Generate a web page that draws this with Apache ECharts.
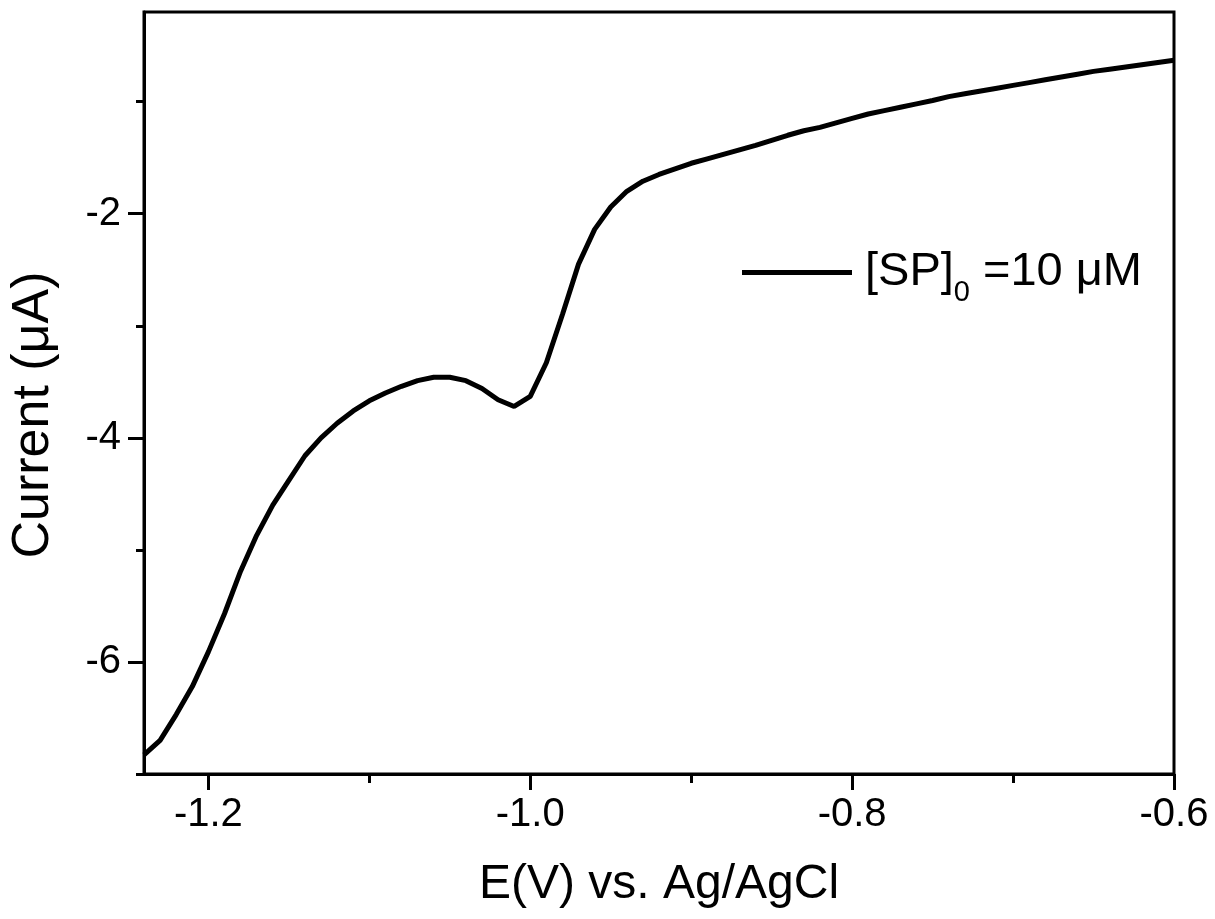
<!DOCTYPE html>
<html>
<head>
<meta charset="utf-8">
<script src="https://cdn.jsdelivr.net/npm/echarts@6/dist/echarts.min.js"></script>
<style>
  html, body { margin: 0; padding: 0; background: #fff; }
  #chart { width: 1215px; height: 919px; }
</style>
</head>
<body>
<div id="chart"></div>
<script>
// potential (V vs. Ag/AgCl), 10 mV steps
const potential = [
  -1.24, -1.23, -1.22, -1.21, -1.20, -1.19, -1.18, -1.17, -1.16, -1.15,
  -1.14, -1.13, -1.12, -1.11, -1.10, -1.09, -1.08, -1.07, -1.06, -1.05,
  -1.04, -1.03, -1.02, -1.01, -1.00, -0.99, -0.98, -0.97, -0.96, -0.95,
  -0.94, -0.93, -0.92, -0.91, -0.90, -0.89, -0.88, -0.87, -0.86, -0.85,
  -0.84, -0.83, -0.82, -0.81, -0.80, -0.79, -0.78, -0.77, -0.76, -0.75,
  -0.74, -0.73, -0.72, -0.71, -0.70, -0.69, -0.68, -0.67, -0.66, -0.65,
  -0.64, -0.63, -0.62, -0.61, -0.60
];
// current (uA)
const current = [
  -6.83, -6.70, -6.47, -6.22, -5.91, -5.57, -5.19, -4.87, -4.60, -4.38,
  -4.16, -4.00, -3.87, -3.76, -3.67, -3.60, -3.54, -3.49, -3.46, -3.46,
  -3.49, -3.56, -3.66, -3.72, -3.63, -3.33, -2.90, -2.45, -2.14, -1.94,
  -1.80, -1.71, -1.65, -1.60, -1.55, -1.51, -1.47, -1.43, -1.39, -1.345,
  -1.30, -1.26, -1.23, -1.19, -1.15, -1.11, -1.08, -1.05, -1.02, -0.99,
  -0.955, -0.93, -0.905, -0.88, -0.855, -0.83, -0.805, -0.78, -0.755, -0.73,
  -0.71, -0.69, -0.67, -0.65, -0.63
];
const xMajor = [-1.2, -1.0, -0.8, -0.6];
const xMinor = [-1.1, -0.9, -0.7];
const yMajor = [-6, -4, -2];
const yMinor = [-7, -5, -3, -1];
const seriesName = '[SP]0 =10 μM';

const FONT = "'Liberation Sans', Arial, sans-serif";

const chart = echarts.init(document.getElementById('chart'));

const xBase = {
  type: 'value',
  min: -1.24,
  max: -0.6,
  position: 'bottom',
  splitLine: { show: false }
};
const yBase = {
  type: 'value',
  min: -7,
  max: -0.2,
  position: 'left',
  splitLine: { show: false }
};

chart.setOption({
  animation: false,
  grid: {
    left: 144, right: 41, top: 12, bottom: 145,
    show: true, borderColor: '#000', borderWidth: 3
  },
  legend: {
    left: 742,
    top: 249,
    padding: 0,
    icon: 'rect',
    itemWidth: 110,
    itemHeight: 5,
    data: [seriesName],
    formatter: () => '{p|[SP]}{s|0}{a| =10 μM}',
    textStyle: {
      color: '#000',
      rich: {
        p: { fontSize: 47, lineHeight: 56, fontFamily: FONT, color: '#000', padding: [0, 0, 0, 8] },
        s: { fontSize: 29, fontFamily: FONT, color: '#000', padding: [40, 0, 0, 0] },
        a: { fontSize: 47, lineHeight: 56, fontFamily: FONT, color: '#000' }
      }
    }
  },
  xAxis: [
    Object.assign({}, xBase, {
      name: 'E(V) vs. Ag/AgCl',
      nameLocation: 'middle',
      nameGap: 87,
      nameTextStyle: { fontSize: 48, fontFamily: FONT, color: '#000' },
      axisLine: { show: true, lineStyle: { color: '#000', width: 3 } },
      axisTick: { show: true, inside: false, length: 16, customValues: xMajor, lineStyle: { color: '#000', width: 3 } },
      axisLabel: {
        customValues: xMajor, margin: 21, fontSize: 40, fontFamily: FONT, color: '#000',
        formatter: v => v.toFixed(1)
      }
    }),
    Object.assign({}, xBase, {
      axisLine: { show: false },
      axisTick: { show: true, inside: false, length: 9, customValues: xMinor, lineStyle: { color: '#000', width: 3 } },
      axisLabel: { show: false }
    })
  ],
  yAxis: [
    Object.assign({}, yBase, {
      name: 'Current (μA)',
      nameLocation: 'middle',
      nameGap: 84,
      nameTextStyle: { fontSize: 52, fontFamily: FONT, color: '#000', padding: [0, 44, 0, 0] },
      axisLine: { show: true, lineStyle: { color: '#000', width: 3 } },
      axisTick: { show: true, inside: false, length: 16, customValues: yMajor, lineStyle: { color: '#000', width: 3 } },
      axisLabel: {
        customValues: yMajor, margin: 23, fontSize: 40, fontFamily: FONT, color: '#000',
        formatter: v => String(v)
      }
    }),
    Object.assign({}, yBase, {
      axisLine: { show: false },
      axisTick: { show: true, inside: false, length: 8, customValues: yMinor, lineStyle: { color: '#000', width: 3 } },
      axisLabel: { show: false }
    })
  ],
  series: [
    {
      name: seriesName,
      type: 'line',
      xAxisIndex: 0,
      yAxisIndex: 0,
      data: potential.map((e, i) => [e, current[i]]),
      symbol: 'none',
      smooth: false,
      lineStyle: { color: '#000', width: 5 },
      itemStyle: { color: '#000' }
    }
  ]
});
</script>
</body>
</html>
